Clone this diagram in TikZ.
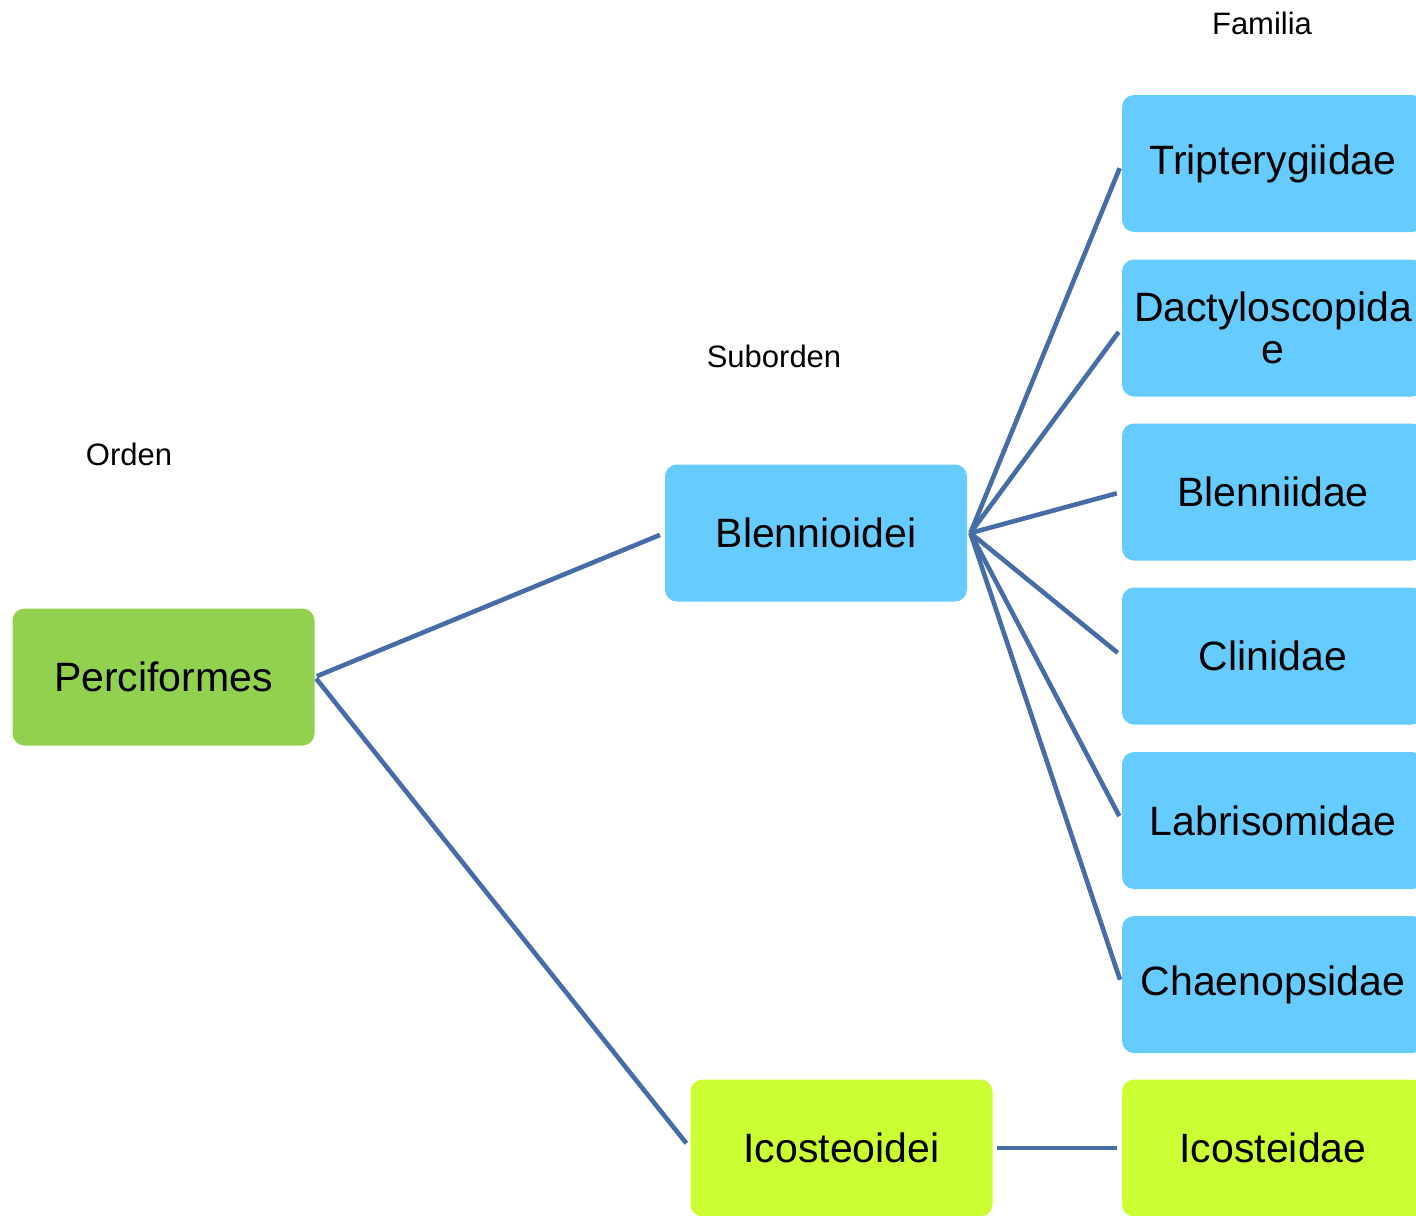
\documentclass[tikz,border=0pt]{standalone}
\usepackage{fontspec}
\setmainfont{Liberation Sans}
\begin{document}
\begin{tikzpicture}[x=0.5pt,y=-0.5pt,
  taxon/.style={rounded corners=6pt, minimum width=151pt, minimum height=68.5pt,
    inner sep=0pt, align=center, font=\fontsize{20.5}{21}\selectfont, text=black},
  orden/.style={taxon, fill=ordgreen},
  blenny/.style={taxon, fill=skyblue},
  icost/.style={taxon, fill=limegreen},
  rank/.style={font=\fontsize{15.5}{18}\selectfont, text=black},
  link/.style={draw=linkblue, line width=2.3pt}]
\definecolor{ordgreen}{HTML}{92D050}
\definecolor{skyblue}{HTML}{66CCFF}
\definecolor{limegreen}{HTML}{CCFF33}
\definecolor{linkblue}{HTML}{466DA6}
\clip (0,0) rectangle (1416,1215);
\fill[white] (0,0) rectangle (1416,1215);

% rank headings
\node[rank] (hord) at (129,454) {Orden};
\node[rank] (hsub) at (774,356) {Suborden};
\node[rank] (hfam) at (1262,23) {Familia};

% order
\node[orden] (perc) at (163.5,677) {Perciformes};

% suborders
\node[blenny] (blen) at (816,533) {Blennioidei};
\node[icost]  (icos) at (841.5,1148) {Icosteoidei};

% families
\node[blenny] (trip) at (1273,163.5) {Tripterygiidae};
\node[blenny] (dact) at (1273,328) {Dactyloscopida\\e};
\node[blenny] (blni) at (1273,492) {Blenniidae};
\node[blenny] (clin) at (1273,656) {Clinidae};
\node[blenny] (labr) at (1273,820.5) {Labrisomidae};
\node[blenny] (chae) at (1273,984.5) {Chaenopsidae};
\node[icost]  (icid) at (1273,1148) {Icosteidae};

% connectors
\draw[link, shorten <=1pt, shorten >=2.5pt] (perc.east) -- (blen.west);
\draw[link, shorten <=1pt, shorten >=3pt] (perc.east) -- (icos.west);
\foreach \f in {trip,dact,blni,clin,labr,chae}
  \draw[link, shorten >=2.5pt] ([xshift=1.5pt]blen.east) -- (\f.west);
\draw[link, shorten >=2.5pt] ([xshift=2pt]icos.east) -- (icid.west);
\end{tikzpicture}
\end{document}
